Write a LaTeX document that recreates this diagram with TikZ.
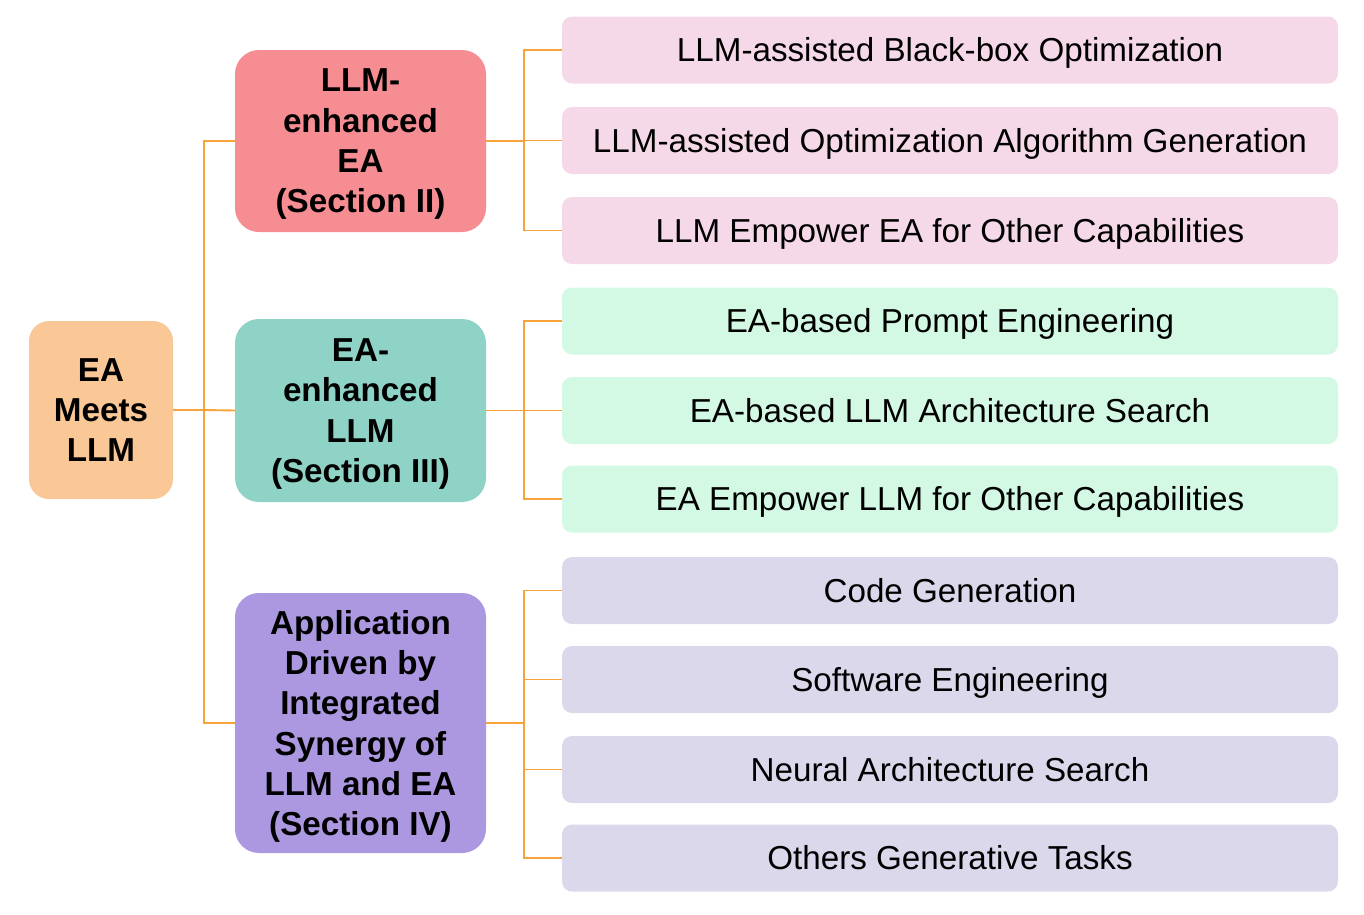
\documentclass[tikz,border=0pt]{standalone}
\usepackage{fontspec}
\setmainfont{Liberation Sans}
\begin{document}
\begin{tikzpicture}[x=1pt,y=-1pt,
  every node/.style={inner sep=0pt,outer sep=0pt},
  rootbox/.style={fill=rootc,rounded corners=20pt,minimum width=144pt,minimum height=178pt,align=center,text depth=-4pt,font=\fontsize{33.2}{40}\selectfont\bfseries},
  midbox/.style={rounded corners=24pt,minimum width=251pt,align=center,text depth=-5pt,font=\fontsize{33.2}{40.3}\selectfont\bfseries},
  leafbox/.style={rounded corners=10pt,minimum width=776pt,minimum height=67pt,text height=23.5pt,text depth=-5.5pt,font=\fontsize{33.2}{40}\selectfont},
  conn/.style={draw=linec,line width=1.9pt}]
\definecolor{rootc}{HTML}{F9C896}
\definecolor{redc}{HTML}{F58D93}
\definecolor{tealc}{HTML}{8FD3C6}
\definecolor{purc}{HTML}{AB98E0}
\definecolor{pinkc}{HTML}{F6D9E8}
\definecolor{greenc}{HTML}{D3F8E3}
\definecolor{lavc}{HTML}{DCD8EC}
\definecolor{linec}{HTML}{F8A33A}
\useasboundingbox (0,0) rectangle (1364,914);
% root
\node[rootbox] (root) at (101,410) {EA\\Meets\\LLM};
% mid
\node[midbox,fill=redc,minimum height=182pt] (m1) at (360.5,141) {LLM-\\enhanced\\EA\\(Section II)};
\node[midbox,fill=tealc,minimum height=183pt] (m2) at (360.5,410.5) {EA-\\enhanced\\LLM\\(Section III)};
\node[midbox,fill=purc,minimum height=260pt] (m3) at (360.5,723) {Application\\Driven by\\Integrated\\Synergy of\\LLM and EA\\(Section IV)};
% leaves
\node[leafbox,fill=pinkc] (a1) at (950,50) {LLM-assisted Black-box Optimization};
\node[leafbox,fill=pinkc] (a2) at (950,140.5) {LLM-assisted Optimization Algorithm Generation};
\node[leafbox,fill=pinkc] (a3) at (950,230.5) {LLM Empower EA for Other Capabilities};
\node[leafbox,fill=greenc] (b1) at (950,321) {EA-based Prompt Engineering};
\node[leafbox,fill=greenc] (b2) at (950,410.5) {EA-based LLM Architecture Search};
\node[leafbox,fill=greenc] (b3) at (950,499) {EA Empower LLM for Other Capabilities};
\node[leafbox,fill=lavc] (c1) at (950,590.5) {Code Generation};
\node[leafbox,fill=lavc] (c2) at (950,679.5) {Software Engineering};
\node[leafbox,fill=lavc] (c3) at (950,769.5) {Neural Architecture Search};
\node[leafbox,fill=lavc] (c4) at (950,858) {Others Generative Tasks};
% connectors from root
\coordinate (t) at (204,410);
\draw[conn] (root.east) -- (t);
\draw[conn] (m1.west) -| (t);
\draw[conn] (m3.west) -| (t);
\draw[conn] (t) -- (m2.west);
% brackets
\foreach \m/\l in {m1/a1,m1/a2,m1/a3,m2/b1,m2/b2,m2/b3,m3/c1,m3/c2,m3/c3,m3/c4}{
  \draw[conn] (\l.west) -- ++(-38,0) |- (\m.east);
}
\end{tikzpicture}
\end{document}
